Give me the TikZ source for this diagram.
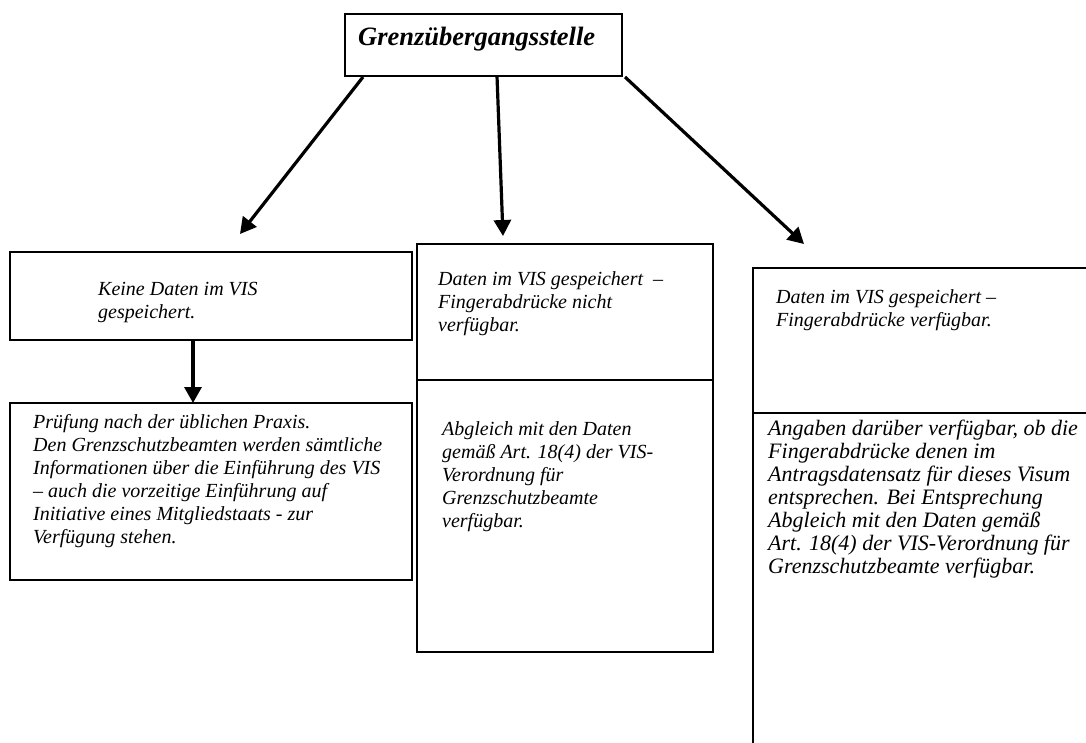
\documentclass[tikz,border=0pt]{standalone}
\usepackage{fontspec}
\setmainfont{Liberation Serif}
\usetikzlibrary{arrows.meta,calc}
\tikzset{
  box/.style={draw, line width=1.4pt, rectangle, anchor=north west, inner sep=0pt, outer sep=0pt},
  txt/.style={anchor=north west, inner sep=0pt, align=left, font=\fontsize{20}{23}\selectfont\itshape},
  bigtxt/.style={txt, font=\fontsize{22}{23}\selectfont\itshape},
  ttl/.style={anchor=base west, inner sep=0pt, font=\fontsize{26.5}{30}\selectfont\bfseries\itshape},
  arr/.style={line width=3.2pt, -{Triangle[length=16pt,width=17pt]}},
  divline/.style={line width=2pt}
}
\begin{document}
\begin{tikzpicture}[x=1pt,y=-1pt]
\useasboundingbox (0,0) rectangle (1086,742);
\clip (0,0) rectangle (1086,742);
% top box
\node[box, minimum width=277pt, minimum height=62pt] (top) at (345,14) {};
\node[ttl] (toptxt) at (358,45) {Grenzübergangsstelle};
% left column
\node[box, minimum width=402pt, minimum height=88pt] (l1) at (10,252) {};
\node[txt] (l1t) at (98,278.9) {\strut Keine Daten im VIS\\gespeichert.};
\node[box, minimum width=402pt, minimum height=177pt] (l2) at (10,403) {};
\node[txt] (l2t) at (33,411.9) {\strut Prüfung nach der üblichen Praxis.\\Den Grenzschutzbeamten werden sämtliche\\Informationen über die Einführung des VIS\\– auch die vorzeitige Einführung auf\\Initiative eines Mitgliedstaats - zur\\Verfügung stehen.};
% middle column
\node[box, minimum width=296pt, minimum height=408pt] (m) at (417,244) {};
\coordinate (mdl) at (417,380);
\coordinate (mdr) at (713,380);
\draw[divline] (mdl) -- (mdr);
\node[txt] (m1t) at (438,268.9) {\strut Daten im VIS gespeichert\ \ –\\Fingerabdrücke nicht\\verfügbar.};
\node[txt] (m2t) at (442,418.9) {\strut Abgleich mit den Daten\\gemäß Art. 18(4) der VIS-\\Verordnung für\\Grenzschutzbeamte\\verfügbar.};
% right column
\node[box, minimum width=360pt, minimum height=500pt] (r) at (753,268) {};
\coordinate (rdl) at (753,413);
\coordinate (rdr) at (1113,413);
\draw[divline] (rdl) -- (rdr);
\node[txt] (r1t) at (776,286.9) {\strut Daten im VIS gespeichert –\\Fingerabdrücke verfügbar.};
\node[bigtxt] (r2t) at (768,418.9) {\strut Angaben darüber verfügbar, ob die\\Fingerabdrücke denen im\\Antragsdatensatz für dieses Visum\\entsprechen. Bei Entsprechung\\Abgleich mit den Daten gemäß\\Art. 18(4) der VIS-Verordnung für\\Grenzschutzbeamte verfügbar.};
% arrows
\coordinate (a1s) at (363,77);
\coordinate (a1e) at (240,234);
\coordinate (a2s) at (497,76);
\coordinate (a2e) at (503,236);
\coordinate (a3s) at (625,77);
\coordinate (a3e) at (804,244);
\draw[arr] (a1s) -- (a1e);
\draw[arr] (a2s) -- (a2e);
\draw[arr] (a3s) -- (a3e);
\draw[arr] (l1.south -| 193,0) -- (l2.north -| 193,0);
\end{tikzpicture}
\end{document}
